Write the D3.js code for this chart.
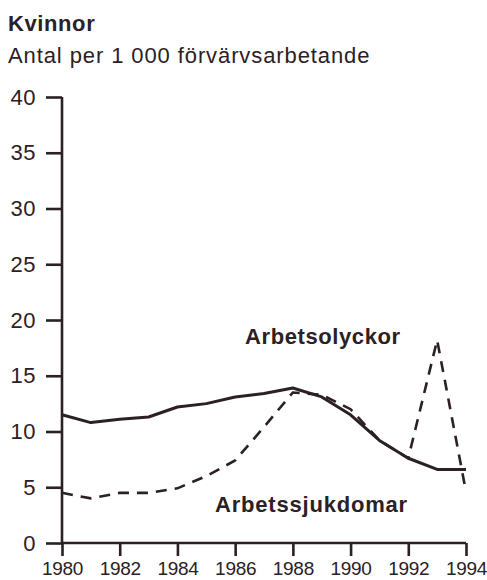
<!DOCTYPE html>
<html>
<head>
<meta charset="utf-8">
<script src="https://cdn.jsdelivr.net/npm/d3@7"></script>
<style>
  html, body { margin: 0; padding: 0; background: #fff; }
  svg { display: block; font-family: "Liberation Sans", Arial, Helvetica, sans-serif; }
</style>
</head>
<body>
<div id="root"></div>
<script>
const years = [1980, 1981, 1982, 1983, 1984, 1985, 1986, 1987, 1988, 1989, 1990, 1991, 1992, 1993, 1994];
// Arbetsolyckor (solid)
const olyckor = [11.5, 10.8, 11.1, 11.3, 12.2, 12.5, 13.1, 13.4, 13.9, 13.1, 11.5, 9.2, 7.6, 6.6, 6.6];
// Arbetssjukdomar (dashed)
const sjukdomar = [4.5, 4.0, 4.5, 4.5, 4.9, 6.0, 7.4, 10.4, 13.5, 13.3, 12.0, 9.2, 7.6, 18.2, 4.6];
const xTicks = [1980, 1982, 1984, 1986, 1988, 1990, 1992, 1994];
const yTicks = [0, 5, 10, 15, 20, 25, 30, 35, 40];

const width = 487, height = 580;
const ink = "#2b2024";

const x = d3.scaleLinear().domain([1980, 1994]).range([62, 466]);
const y = d3.scaleLinear().domain([0, 40]).range([543, 97]);

const svg = d3.create("svg").attr("width", width).attr("height", height);

svg.append("text")
  .attr("x", 8).attr("y", 31)
  .style("font-size", "22px").style("font-weight", "bold").attr("fill", ink)
  .attr("letter-spacing", 0.6)
  .text("Kvinnor");
svg.append("text")
  .attr("x", 8).attr("y", 63)
  .style("font-size", "22px").attr("fill", ink)
  .attr("letter-spacing", 0.9)
  .text("Antal per 1 000 förvärvsarbetande");

// y axis
const yAxis = svg.append("g")
  .attr("transform", `translate(${x(1980)},0)`)
  .call(d3.axisLeft(y).tickValues(yTicks).tickSize(16).tickPadding(10));
// x axis
const xAxis = svg.append("g")
  .attr("transform", `translate(0,${y(0)})`)
  .call(d3.axisBottom(x).tickValues(xTicks).tickFormat(d3.format("d")).tickSize(13).tickPadding(6));

[yAxis, xAxis].forEach((g) => {
  g.attr("font-size", null).attr("font-family", null);
  g.select(".domain").attr("stroke", ink).attr("stroke-width", 2.6);
  g.selectAll(".tick line").attr("stroke", ink).attr("stroke-width", 2.6);
  g.selectAll("text").attr("fill", ink);
});
yAxis.selectAll("text").style("font-size", "22px").attr("letter-spacing", 0.5);
xAxis.selectAll("text").style("font-size", "19px").attr("letter-spacing", -0.3);
yAxis.select(".domain").attr("d", `M0,${y(40)}V${y(0)}`);
yAxis.selectAll(".tick line").attr("x1", 0);
xAxis.select(".domain").attr("d", `M${x(1980)},0H${x(1994)}`);

const line = d3.line().x((d, i) => x(years[i])).y((d) => y(d));

svg.append("path")
  .datum(sjukdomar)
  .attr("fill", "none").attr("stroke", ink)
  .attr("stroke-width", 2.6)
  .attr("stroke-dasharray", "11,8")
  .attr("d", line);

svg.append("path")
  .datum(olyckor)
  .attr("fill", "none").attr("stroke", ink)
  .attr("stroke-width", 3)
  .attr("stroke-linejoin", "round")
  .attr("d", line);

svg.append("text")
  .attr("x", 245).attr("y", 344)
  .style("font-size", "22px").style("font-weight", "bold").attr("fill", ink)
  .attr("letter-spacing", 0.6)
  .text("Arbetsolyckor");
svg.append("text")
  .attr("x", 215).attr("y", 512)
  .style("font-size", "22px").style("font-weight", "bold").attr("fill", ink)
  .attr("letter-spacing", 0.8)
  .text("Arbetssjukdomar");

d3.select("#root").append(() => svg.node());
</script>
</body>
</html>
